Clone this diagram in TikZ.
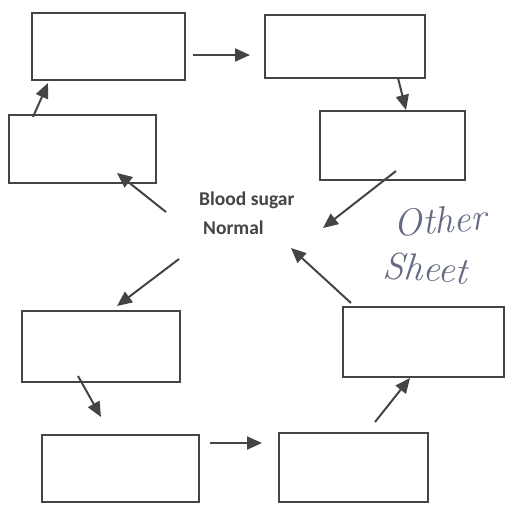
\documentclass[tikz,border=0pt]{standalone}
\usepackage{fontspec}
\newfontfamily\calib{Carlito}
\usetikzlibrary{arrows.meta,calc}
\definecolor{ink}{HTML}{444444}
\definecolor{pencil}{RGB}{100,106,130}
\tikzset{
  box/.style={draw=ink, line width=2.4pt, rectangle, inner sep=0pt, outer sep=0pt},
  arr/.style={draw=ink, line width=2pt, -{Triangle[length=15pt,width=13pt]}},
  lbl/.style={font=\calib\bfseries\fontsize{19.5}{22}\selectfont, text=ink, inner sep=0pt},
  hand/.style={font=\itshape\fontsize{38}{40}\selectfont, text=pencil, inner sep=0pt}
}
\begin{document}
\begin{tikzpicture}[x=1pt,y=-1pt]
\useasboundingbox (0,0) rectangle (506,504);
% boxes
\node[box, minimum width=153pt, minimum height=67pt] (b1) at (108.5,46.5) {};
\node[box, minimum width=160pt, minimum height=63pt] (b2) at (345,46.5) {};
\node[box, minimum width=147pt, minimum height=68pt] (b3) at (82.5,149) {};
\node[box, minimum width=145pt, minimum height=69pt] (b4) at (392.5,145.5) {};
\node[box, minimum width=158pt, minimum height=71pt] (b5) at (101,346.5) {};
\node[box, minimum width=161pt, minimum height=70pt] (b6) at (423.5,342) {};
\node[box, minimum width=157pt, minimum height=67pt] (b7) at (120.5,468.5) {};
\node[box, minimum width=149pt, minimum height=69pt] (b8) at (353.5,467.5) {};
% centre text
\node[lbl, anchor=base west] (t1) at (199,205) {Blood sugar};
\node[lbl, anchor=base west] (t2) at (203,234) {Normal};
% handwriting
\node[hand, rotate=4] (h1) at (440,220) {Other};
\node[hand, rotate=-4] (h2) at (426,268) {Sheet};
% free ends near the centre
\coordinate (c1) at (323,228);
\coordinate (c2) at (291,248);
\coordinate (c3) at (179,259);
\coordinate (c4) at (166,212);
% connectors
\draw[arr] ($(b1.east)+(8,8.5)$) -- ($(b2.west)+(-15,8.5)$);
\draw[arr] ($(b2.south)+(53,0)$) -- ($(b4.north)+(13.5,-1)$);
\draw[arr] ($(b4.south)+(3.5,-9)$) -- (c1);
\draw[arr] ($(b6.north)+(-72.5,-4)$) -- (c2);
\draw[arr] (c3) -- ($(b5.north)+(16,-5)$);
\draw[arr] ($(b5.south)+(-23,-6)$) -- ($(b7.north)+(-19.5,-18)$);
\draw[arr] ($(b7.east)+(11,-25.5)$) -- ($(b8.west)+(-17,-24.5)$);
\draw[arr] ($(b8.north)+(21.5,-11)$) -- ($(b6.south)+(-13.5,1)$);
\draw[arr] (c4) -- ($(b3.south east)+(-39,-10)$);
\draw[arr] ($(b3.north west)+(24,2)$) -- ($(b1.south west)+(16,3)$);
\end{tikzpicture}
\end{document}
